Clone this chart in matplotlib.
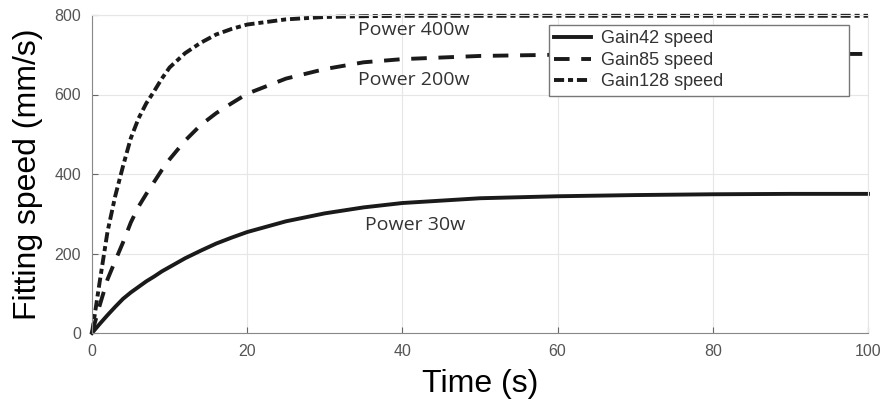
import matplotlib
matplotlib.use("Agg")
import matplotlib.pyplot as plt

# values
t = [0, 1, 2, 3, 4, 5, 6, 7, 8, 9, 10, 12, 14, 16, 18, 20, 25, 30, 35, 40, 50, 60, 70, 80, 90, 100]
gain42 = [0, 23, 45, 66, 86, 102, 116, 130, 142, 155, 166, 188, 207, 225, 240, 254, 281, 301, 316, 327,
          339, 344, 347, 349, 350, 350]
gain85 = [0, 70, 135, 182, 228, 278, 318, 350, 380, 410, 437, 484, 523, 553, 578, 602, 640, 664, 681, 689,
          697, 700, 701, 702, 702, 702]
gain128 = [0, 130, 255, 345, 420, 490, 540, 578, 608, 640, 668, 704, 730, 751, 765, 776, 789, 795, 797, 798,
           798, 798, 798, 798, 798, 798]

labels = ["Gain42 speed", "Gain85 speed", "Gain128 speed"]
notes = ["Power 400w", "Power 200w", "Power 30w"]
note_pos = [(34.3, 762), (34.3, 636), (35.2, 272)]

plt.rcParams['font.family'] = ['Liberation Sans', 'DejaVu Sans']

fig = plt.figure(figsize=(8.85, 4.01), dpi=100)
ax = fig.add_axes([92/885, 1 - 333/401, 776/885, 318/401])

lw = 2.8
ax.plot(t, gain42, color='#1a1a1a', lw=lw, ls='-', label=labels[0], clip_on=False)
ax.plot(t, gain85, color='#1a1a1a', lw=lw, ls=(0, (4.0, 3.0)), label=labels[1], clip_on=False)
ax.plot(t, gain128, color='#1a1a1a', lw=lw, ls=(0, (2.6, 1.0, 1.3, 1.0)), label=labels[2], clip_on=False)

for txt, (x, y) in zip(notes, note_pos):
    ax.text(x, y, txt, fontsize=14, color='#333333', ha='left', va='center',
            family=['Open Sans', 'DejaVu Sans'])

ax.set_xlim(0, 100)
ax.set_ylim(0, 800)
ax.set_xticks([0, 20, 40, 60, 80, 100])
ax.set_yticks([0, 200, 400, 600, 800])
ax.grid(True, color='#e6e6e6', lw=0.8)
ax.tick_params(direction='in', length=4, colors='#666666', labelsize=11.5, labelcolor='#555555', pad=8)
for s in ['left', 'bottom']:
    ax.spines[s].set_color('#888888')
for s in ['top', 'right']:
    ax.spines[s].set_color('#e6e6e6')

ax.set_xlabel('Time (s)', fontsize=23, labelpad=7)
ax.set_ylabel('Fitting speed (mm/s)', fontsize=23, labelpad=8)

leg = ax.legend(loc='upper left', bbox_to_anchor=(0.589, 0.5, 0.3866, 0.4686), mode='expand',
                fontsize=13, handlelength=2.05, frameon=True, fancybox=False, framealpha=1,
                borderpad=0.3, labelspacing=0.25, handletextpad=0.55, borderaxespad=0)
leg.get_frame().set_edgecolor('#777777')
leg.get_frame().set_linewidth(1.0)
leg.set_zorder(5)
for txt in leg.get_texts():
    txt.set_color('#333333')

fig.savefig('out.png', dpi=100)
